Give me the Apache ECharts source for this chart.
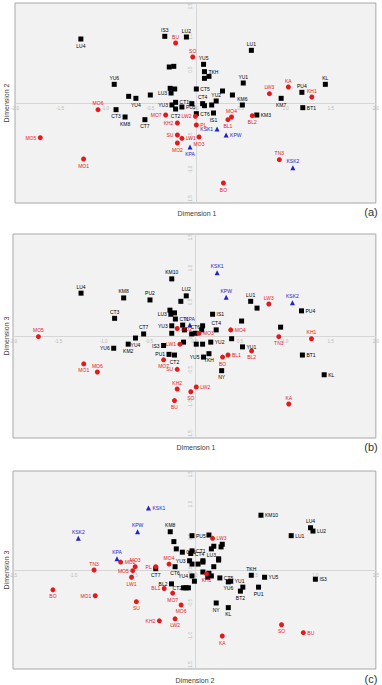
<!DOCTYPE html>
<html>
<head>
<meta charset="utf-8">
<script src="https://cdn.jsdelivr.net/npm/echarts@6/dist/echarts.min.js"></script>
<style>
html, body { margin: 0; padding: 0; background: #fff; }
#chart { width: 382px; height: 685px; }
</style>
</head>
<body>
<div id="chart"></div>
<script>
// (a) Dimension 1 (x) vs Dimension 2 (y)
const aBlack = [
    ['LU4', -1.27, 0.96], ['IS3', -0.34, 1.00], ['LU2', -0.10, 0.99],
    ['', -0.29, 0.54], ['', -0.24, 0.55],
    ['YU6', -0.90, 0.28], ['', -0.74, 0.10], ['YU4', -0.66, 0.07], ['', -0.50, 0.12],
    ['LU3', -0.27, 0.15], ['', -0.28, 0.22], ['', -0.23, 0.21],
    ['YU3', -0.26, -0.03], ['CT1', -0.22, 0.01], ['CT2', -0.22, -0.09], ['PU5', -0.15, -0.06],
    ['', -0.04, -0.01], ['CT4', 0.08, -0.01], ['', 0.10, -0.04], ['', 0.18, -0.03], ['YU2', 0.23, 0.03],
    ['CT5', 0.01, 0.21], ['YU5', 0.09, 0.58], ['TKH', 0.10, 0.47], ['', 0.10, 0.37], ['', 0.15, 0.40],
    ['LU1', 0.62, 0.79], ['YU1', 0.53, 0.30], ['', 0.30, 0.18], ['', 0.41, 0.12], ['KM6', 0.52, -0.03],
    ['PU4', 1.18, 0.16], ['KL', 1.44, 0.28], ['KM7', 0.95, 0.07], ['BT1', 1.19, -0.07],
    ['CT3', -0.88, -0.10], ['KM8', -0.78, -0.21], ['CT7', -0.56, -0.25],
    ['CT6', 0.01, -0.16], ['IS1', 0.20, -0.15], ['KM3', 0.68, -0.18]
];
const aRed = [
    ['BU', -0.22, 0.90], ['SO', -0.03, 0.69], ['MO6', -1.08, -0.10], ['MO5', -1.72, -0.52], ['MO1', -1.24, -0.84],
    ['MO7', -0.33, -0.18], ['KH2', -0.20, -0.30], ['SU', -0.20, -0.48], ['LW1', -0.15, -0.53], ['MO2', -0.20, -0.60],
    ['LW2', 0.00, -0.20], ['PL', 0.01, -0.33], ['MO3', 0.04, -0.51], ['MO4', 0.40, -0.21], ['BL1', 0.36, -0.25],
    ['BL2', 0.63, -0.19], ['TN3', 0.93, -0.85], ['BO', 0.31, -1.20], ['LW3', 0.82, 0.14], ['KA', 1.03, 0.24],
    ['KH1', 1.29, 0.09]
];
const aBlue = [['KSK1', 0.24, -0.39], ['KPW', 0.34, -0.48], ['KPA', -0.06, -0.66], ['KSK2', 1.08, -0.97]];

// (b) Dimension 1 (x) vs Dimension 3 (y)
const bBlack = [
    ['KM10', -0.25, 0.84], ['LU4', -1.25, 0.63], ['KM8', -0.78, 0.56], ['PU2', -0.49, 0.53], ['LU2', -0.09, 0.59],
    ['', -0.15, 0.51], ['CT3', -0.88, 0.26], ['LU3', -0.26, 0.32], ['', -0.27, 0.38], ['', -0.22, 0.34],
    ['CT1', -0.21, 0.25], ['YU3', -0.25, 0.15], ['', -0.13, 0.16], ['', -0.11, 0.09], ['CT7', -0.56, 0.03],
    ['', -0.25, 0.04], ['LU1', 0.62, 0.51], ['', 0.69, 0.41], ['PU4', 1.18, 0.37], ['IS1', 0.20, 0.32],
    ['', 0.52, 0.22], ['', 0.95, 0.13], ['CT4', 0.24, 0.09], ['', 0.09, 0.15], ['', 0.08, 0.09],
    ['CT6', 0.01, 0.04], ['', 0.41, -0.04], ['YU6', -0.89, -0.18], ['KM2', -0.73, -0.12], ['YU4', -0.65, -0.03],
    ['IS3', -0.34, -0.14], ['PU1', -0.28, -0.27], ['CT2', -0.22, -0.28], ['', -0.12, -0.09], ['', -0.03, 0.03],
    ['', 0.02, -0.12], ['', 0.09, -0.12], ['YU2', 0.18, -0.09], ['TKH', 0.16, -0.26], ['YU5', 0.10, -0.31],
    ['YU1', 0.53, -0.16], ['NY', 0.30, -0.51], ['BT1', 1.19, -0.28], ['KL', 1.43, -0.57]
];
const bRed = [
    ['MO5', -1.72, -0.01], ['MO2', -0.19, 0.11], ['MO4', 0.40, 0.09], ['MO3', 0.05, 0.04], ['LW3', 0.82, 0.47],
    ['TN3', 0.93, -0.01], ['KH1', 1.29, -0.04], ['LW1', -0.16, -0.12], ['MO7', -0.34, -0.35], ['SU', -0.19, -0.49],
    ['KH2', -0.19, -0.78], ['BU', -0.22, -0.95], ['MO1', -1.22, -0.41], ['MO6', -1.07, -0.53], ['SO', -0.04, -0.82],
    ['LW2', 0.02, -0.75], ['BO', 0.31, -0.31], ['BL1', 0.37, -0.28], ['BL2', 0.63, -0.22], ['KA', 1.04, -1.00]
];
const bBlue = [['KSK1', 0.25, 0.93], ['KPW', 0.35, 0.57], ['KSK2', 1.08, 0.49], ['KPA', -0.05, 0.16]];

// (c) Dimension 2 (x) vs Dimension 3 (y)
const cBlack = [
    ['KM8', -0.20, 0.58], ['', -0.17, 0.43], ['', -0.15, 0.32], ['CT3', -0.10, 0.27],
    ['KM10', 0.55, 0.83], ['LU4', 0.96, 0.64], ['LU2', 0.98, 0.59], ['LU1', 0.80, 0.52], ['PU5', -0.02, 0.52],
    ['', 0.12, 0.53], ['', 0.16, 0.36], ['LU3', 0.14, 0.32], ['', 0.23, 0.39], ['', 0.22, 0.35],
    ['', 0.20, 0.17], ['', 0.07, 0.14], ['CT1', -0.02, 0.29], ['CT4', -0.03, 0.25], ['YU3', -0.04, 0.14],
    ['', -0.02, 0.09], ['', 0.03, 0.09], ['', 0.07, 0.12], ['', 0.16, 0.05], ['', 0.20, 0.15],
    ['CT7', -0.32, 0.02], ['CT6', -0.16, 0.05], ['YU4', -0.02, -0.09], ['', 0.00, -0.17],
    ['', 0.07, -0.03], ['', 0.12, -0.05], ['', 0.11, -0.11], ['', 0.14, -0.09],
    ['CT5', 0.21, -0.12], ['YU1', 0.30, -0.17], ['YU6', 0.28, -0.18], ['', 0.40, -0.26], ['BT2', 0.38, -0.32],
    ['TKH', 0.47, -0.08], ['YU5', 0.58, -0.11], ['PU1', 0.53, -0.26], ['IS3', 1.00, -0.14],
    ['NY', 0.18, -0.50], ['KL', 0.28, -0.57], ['CT2', -0.07, -0.27], ['', -0.09, -0.27], ['', -0.05, -0.27],
    ['BL2', -0.19, -0.21]
];
const cRed = [
    ['MO2', -0.61, 0.12], ['TN3', -0.83, 0.00], ['MO3', -0.49, 0.05], ['MO5', -0.51, -0.01], ['LW1', -0.52, -0.11],
    ['PL', -0.32, 0.05], ['MO4', -0.21, 0.09], ['LW3', 0.15, 0.48], ['KH1', 0.10, -0.06], ['BO', -1.17, -0.30],
    ['MO1', -0.82, -0.39], ['SU', -0.48, -0.48], ['BL1', -0.25, -0.28], ['MO7', -0.18, -0.35], ['MO6', -0.11, -0.53],
    ['KH2', -0.29, -0.77], ['LW2', -0.16, -0.74], ['KA', 0.23, -1.00], ['SO', 0.72, -0.83], ['BU', 0.90, -0.95]
];
const cBlue = [['KSK1', -0.38, 0.94], ['KPW', -0.47, 0.58], ['KSK2', -0.96, 0.48], ['KPA', -0.64, 0.17]];

// where each label sits relative to its marker (default: top)
const aLabelPos = {
    LU4: 'bottom', YU4: 'bottom', LU3: 'left', YU3: 'left', CT1: 'right', CT2: 'bottom', PU5: 'right',
    CT5: 'right', TKH: 'right', KM7: 'bottom', BT1: 'right', CT3: 'bottom', KM8: 'bottom', CT7: 'bottom',
    CT6: 'right', IS1: 'bottom', KM3: 'right',
    MO5: 'left', MO1: 'bottom', MO7: 'left', KH2: 'left', SU: 'left', LW1: 'right', MO2: 'bottom',
    LW2: 'left', PL: 'right', MO3: 'bottom', BL1: 'bottom', BL2: 'bottom', BO: 'bottom',
    KSK1: 'left', KPW: 'right', KPA: 'bottom'
};
const bLabelPos = {
    LU3: 'left', CT1: 'right', YU3: 'left', PU4: 'right', IS1: 'right', YU6: 'left', KM2: 'bottom',
    YU4: 'bottom', IS3: 'left', PU1: 'left', CT2: 'bottom', YU5: 'left', YU2: 'right', TKH: 'bottom',
    YU1: 'right', NY: 'bottom', BT1: 'right', KL: 'right',
    MO2: 'right', MO4: 'right', MO3: 'right', TN3: 'bottom', LW1: 'left', MO7: 'bottom', SU: 'left',
    BU: 'bottom', MO1: 'bottom', SO: 'bottom', LW2: 'right', BO: 'bottom', BL1: 'right', BL2: 'bottom'
};
const cLabelPos = {
    CT3: 'right', KM10: 'right', LU2: 'right', LU1: 'right', PU5: 'right', LU3: 'bottom', CT1: 'right',
    CT4: 'right', YU3: 'left', CT7: 'bottom', CT6: 'bottom', YU4: 'left', CT5: 'right', YU1: 'right',
    YU6: 'bottom', BT2: 'bottom', YU5: 'right', PU1: 'bottom', IS3: 'right', NY: 'bottom', KL: 'bottom',
    CT2: 'left', BL2: 'left',
    MO2: 'right', MO5: 'left', LW1: 'bottom', PL: 'left', LW3: 'right', KH1: 'bottom', BO: 'bottom',
    MO1: 'left', SU: 'bottom', BL1: 'left', MO7: 'bottom', MO6: 'bottom', KH2: 'left', LW2: 'bottom',
    KA: 'bottom', SO: 'bottom', BU: 'right', KSK1: 'right'
};

const BLACK = '#000000';
const RED = '#e31a1c';
const BLUE = '#2323c8';

// panel boxes: left, top, width, height
const panels = [
    { left: 15, top: 3, width: 362, height: 200 },
    { left: 13, top: 234, width: 365, height: 204 },
    { left: 13, top: 471, width: 365, height: 198 }
];

function makeSeries(rows, idx, posMap, color, symbol, size) {
    return {
        type: 'scatter',
        xAxisIndex: idx,
        yAxisIndex: idx,
        symbol: symbol,
        symbolSize: size,
        itemStyle: { color: color, opacity: 1 },
        label: {
            show: true,
            formatter: '{b}',
            fontSize: 5,
            fontFamily: 'Liberation Sans',
            color: color,
            distance: 1.5
        },
        emphasis: { disabled: true },
        data: rows.map(r => ({
            name: r[0],
            value: [r[1], r[2]],
            label: { position: posMap[r[0]] || 'top' }
        }))
    };
}

// axes sit on the zero lines; all ranges are symmetric so zero is mid-box
function makeX(idx, min, max) {
    return {
        gridIndex: idx, type: 'value', min: min, max: max, interval: 0.5,
        position: 'bottom', offset: -panels[idx].height / 2,
        axisLine: { onZero: false, lineStyle: { color: '#d6d6d6', width: 1 } },
        axisTick: { show: false },
        splitLine: { show: false },
        axisLabel: { fontSize: 4.5, color: '#b8b8b8', margin: 3, formatter: v => v.toFixed(1) }
    };
}
function makeY(idx, min, max) {
    return {
        gridIndex: idx, type: 'value', min: min, max: max, interval: 0.5,
        position: 'left', offset: -panels[idx].width / 2,
        axisLine: { onZero: false, lineStyle: { color: '#d6d6d6', width: 1 } },
        axisTick: { show: false },
        splitLine: { show: false },
        axisLabel: {
            fontSize: 4.5, color: '#b8b8b8', margin: 3, rotate: 90,
            alignMinLabel: 'left', alignMaxLabel: 'right', formatter: v => v.toFixed(1)
        }
    };
}

function makeGrid(p) {
    return {
        left: p.left, top: p.top, width: p.width, height: p.height,
        show: true, backgroundColor: '#f2f2f2', borderColor: '#a8a8a8', borderWidth: 1, containLabel: false
    };
}

function axisTitle(text, x, y, rotated) {
    return {
        type: 'text', x: x, y: y, rotation: rotated ? Math.PI / 2 : 0, silent: true,
        style: {
            text: text, fontSize: 7, fontFamily: 'Liberation Sans', fill: '#404040',
            align: 'center', verticalAlign: 'middle', textAlign: 'center', textVerticalAlign: 'middle'
        }
    };
}
function panelTag(text, x, y) {
    return {
        type: 'text', x: x, y: y, silent: true,
        style: {
            text: text, fontSize: 11, fontFamily: 'Liberation Sans', fill: '#333',
            align: 'center', verticalAlign: 'middle', textAlign: 'center', textVerticalAlign: 'middle'
        }
    };
}

const chart = echarts.init(document.getElementById('chart'), null, { renderer: 'svg' });
chart.setOption({
    animation: false,
    backgroundColor: '#ffffff',
    grid: panels.map(makeGrid),
    xAxis: [makeX(0, -2, 2), makeX(1, -2, 2), makeX(2, -1.5, 1.5)],
    yAxis: [makeY(0, -1.5, 1.5), makeY(1, -1.5, 1.5), makeY(2, -1.5, 1.5)],
    series: [
        makeSeries(aBlack, 0, aLabelPos, BLACK, 'rect', 5),
        makeSeries(aRed, 0, aLabelPos, RED, 'circle', 5),
        makeSeries(aBlue, 0, aLabelPos, BLUE, 'triangle', 5),
        makeSeries(bBlack, 1, bLabelPos, BLACK, 'rect', 5),
        makeSeries(bRed, 1, bLabelPos, RED, 'circle', 5),
        makeSeries(bBlue, 1, bLabelPos, BLUE, 'triangle', 5),
        makeSeries(cBlack, 2, cLabelPos, BLACK, 'rect', 5),
        makeSeries(cRed, 2, cLabelPos, RED, 'circle', 5),
        makeSeries(cBlue, 2, cLabelPos, BLUE, 'triangle', 5)
    ],
    graphic: [
        axisTitle('Dimension 2', 6, 103, true),
        axisTitle('Dimension 1', 197, 213, false),
        panelTag('(a)', 371, 212),
        axisTitle('Dimension 3', 6, 336, true),
        axisTitle('Dimension 1', 196, 447, false),
        panelTag('(b)', 371, 447),
        axisTitle('Dimension 3', 6, 570, true),
        axisTitle('Dimension 2', 195, 680, false),
        panelTag('(c)', 371, 679)
    ]
});
</script>
</body>
</html>
